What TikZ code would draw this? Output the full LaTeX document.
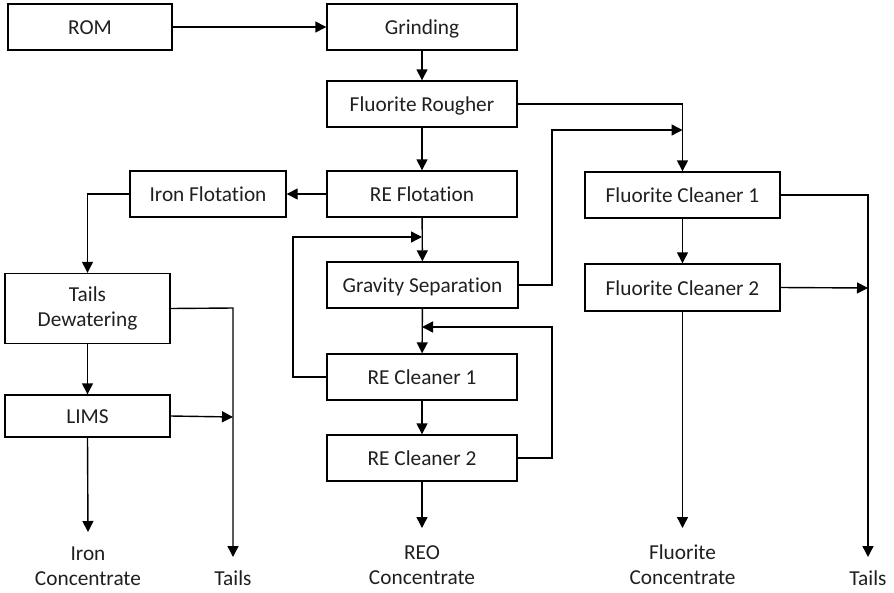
\documentclass[tikz,border=0pt]{standalone}
\usepackage{fontspec}
\setmainfont{Carlito}[Ligatures=NoCommon]
\usetikzlibrary{arrows.meta}
\begin{document}
\begin{tikzpicture}[x=1pt,y=-1pt,
  box/.style={draw,line width=1.4pt,inner sep=0pt,minimum height=46pt,
    text height=17pt,text depth=2pt,
    text=black!88,font=\fontsize{21.3}{25}\selectfont,align=center},
  tallbox/.style={box,text height={},text depth={}},
  outlabel/.style={inner sep=0pt,text=black!88,font=\fontsize{21.3}{25}\selectfont,align=center},
  flow/.style={line width=1.4pt,-{Triangle[length=11pt,width=11pt]}}]
\useasboundingbox (0,0) rectangle (894,592);

% process units
\node[box,minimum width=164pt] (rom)   at (90,27)    {ROM};
\node[box,minimum width=190pt] (grind) at (422,27)   {Grinding};
\node[box,minimum width=190pt] (frough) at (422,104) {Fluorite Rougher};
\node[box,minimum width=190pt] (reflot) at (422,194) {RE Flotation};
\node[box,minimum width=156pt] (iron)  at (208,194)  {Iron Flotation};
\node[box,minimum width=191pt] (grav)  at (422.5,285) {Gravity Separation};
\node[box,minimum width=190pt] (rec1)  at (422,377)  {RE Cleaner 1};
\node[box,minimum width=190pt] (rec2)  at (422,458)  {RE Cleaner 2};
\node[box,minimum width=195pt] (fc1)   at (682.5,195) {Fluorite Cleaner 1};
\node[box,minimum width=195pt,minimum height=47pt] (fc2) at (682.5,287.5) {Fluorite Cleaner 2};
\node[tallbox,minimum width=165pt,minimum height=70pt] (tdew) at (87.5,308.5) {Tails\\Dewatering};
\node[box,minimum width=165pt,minimum height=42pt] (lims) at (87.5,416) {LIMS};

% products
\node[outlabel] (ironc) at (88,566)  {Iron\\Concentrate};
\node[outlabel] (tailsl) at (233,578)  {Tails};
\node[outlabel] (reoc) at (422,565)    {REO\\Concentrate};
\node[outlabel] (fluc) at (682.5,564.5) {Fluorite\\Concentrate};
\node[outlabel] (tailsr) at (868,578)  {Tails};

% junction points
\coordinate (ltails) at (233,557);
\coordinate (ltop)   at (233,308);
\coordinate (lims-j) at (233,417);
\coordinate (ironend) at (88,532);
\coordinate (reoend) at (422,528);
\coordinate (fluend) at (682.5,528);
\coordinate (rtails) at (868,557);
\coordinate (rtop)   at (868,195);
\coordinate (fc2-j)  at (868,288);
\coordinate (rec1-j) at (422,237);
\coordinate (rec2-j) at (422,327);
\coordinate (grav-j) at (682.5,130);

% main line
\draw[flow] (rom) -- (grind);
\draw[flow] (grind) -- (frough);
\draw[flow] (frough) -- (reflot);
\draw[flow] (reflot) -- (grav);
\draw[flow] (grav) -- (rec1);
\draw[flow] (rec1) -- (rec2);
\draw[flow] (rec2) -- (reoend);

% iron circuit
\draw[flow] (reflot) -- (iron);
\draw[flow] (iron.west) -| (tdew.north);
\draw[flow] (tdew) -- (lims);
\draw[flow] (lims.south) -- (ironend);
\draw[flow] (tdew.east) -- (ltop) -- (ltails);
\draw[flow] (lims.east) -- (lims-j);

% recycle streams
\draw[flow] (rec1.west) -- (293,377) -- (293,237) -- (rec1-j);
\draw[flow] (rec2.east) -- (552,458) -- (552,327) -- (rec2-j);
\draw[flow] (grav.east) -- (552,285) -- (552,130) -- (grav-j);

% fluorite circuit
\draw[flow] (frough.east) -- (682.5,104) -- (fc1.north);
\draw[flow] (fc1) -- (fc2);
\draw[flow] (fc2.south) -- (fluend);
\draw[flow] (fc1.east) -- (rtop) -- (rtails);
\draw[flow] (fc2.east) -- (fc2-j);
\end{tikzpicture}
\end{document}
